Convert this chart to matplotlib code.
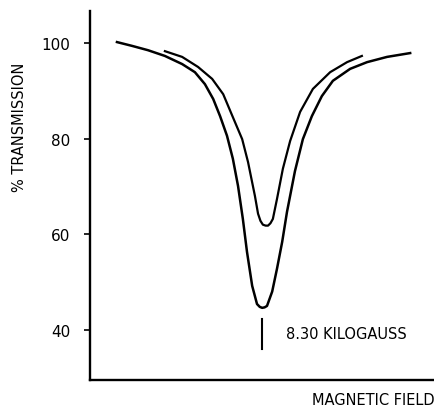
import matplotlib.pyplot as plt
import numpy as np

# field position in arbitrary units (axis runs 0..100), transmission in %
outer_field = [7.8, 12.2, 16.8, 21.7, 26.7, 30.4, 33.3, 35.7, 37.7, 39.7, 41.4, 42.9, 44.3,
               45.5, 47.0, 48.4, 49.2, 49.9, 50.6, 51.3, 52.8, 54.2, 55.7, 57.1, 59.4, 61.7,
               64.3, 67.2, 70.4, 75.4, 80.3, 86.1, 92.8]
outer_trans = [100.2, 99.4, 98.5, 97.3, 95.6, 93.9, 91.4, 88.3, 84.7, 80.6, 75.8, 70.1, 63.2,
               56.3, 49.2, 45.4, 44.8, 44.6, 44.7, 45.0, 48.0, 52.8, 58.4, 64.7, 73.2, 79.9,
               84.7, 88.9, 92.1, 94.6, 96.0, 97.1, 97.9]

inner_field = [21.7, 26.7, 31.3, 35.4, 38.6, 41.4, 44.1, 45.8, 47.8, 48.7, 49.4, 50.1, 50.9,
               51.6, 52.3, 53.0, 54.2, 55.9, 58.0, 60.9, 64.6, 69.6, 74.5, 78.8]
inner_trans = [98.3, 97.1, 95.0, 92.5, 89.3, 84.5, 79.9, 75.1, 68.0, 64.3, 62.8, 62.0, 61.8,
               61.8, 62.3, 63.2, 67.4, 73.7, 79.5, 85.6, 90.4, 93.9, 96.0, 97.3]

resonance_field = 49.9
marker_span = [36.0, 42.3]
yticks = [40, 60, 80, 100]

fig = plt.figure(figsize=(4.35, 4.1), dpi=100)
ax = fig.add_axes([0.207, 0.0707, 0.793, 0.90])

ax.plot(outer_field, outer_trans, color='black', lw=1.8, solid_joinstyle='round')
ax.plot(inner_field, inner_trans, color='black', lw=1.6, solid_joinstyle='round')
ax.plot([resonance_field, resonance_field], marker_span, color='black', lw=1.5)
ax.text(resonance_field + 6.8, np.mean(marker_span), '8.30 KILOGAUSS',
        fontsize=10.5, va='center', ha='left')

ax.set_xlim(0, 100)
ax.set_ylim(29.5, 106.7)
ax.set_yticks(yticks)
ax.set_xticks([])
ax.tick_params(axis='y', direction='out', length=4, width=1.2, pad=10, labelsize=11)
for s in ['top', 'right']:
    ax.spines[s].set_visible(False)
for s in ['left', 'bottom']:
    ax.spines[s].set_linewidth(1.7)

fig.text(0.045, 0.69, '% TRANSMISSION', rotation=90, ha='center', va='center', fontsize=10.5)
fig.text(0.998, 0.006, 'MAGNETIC FIELD', ha='right', va='bottom', fontsize=10.5)

fig.savefig('out.png', dpi=100)
